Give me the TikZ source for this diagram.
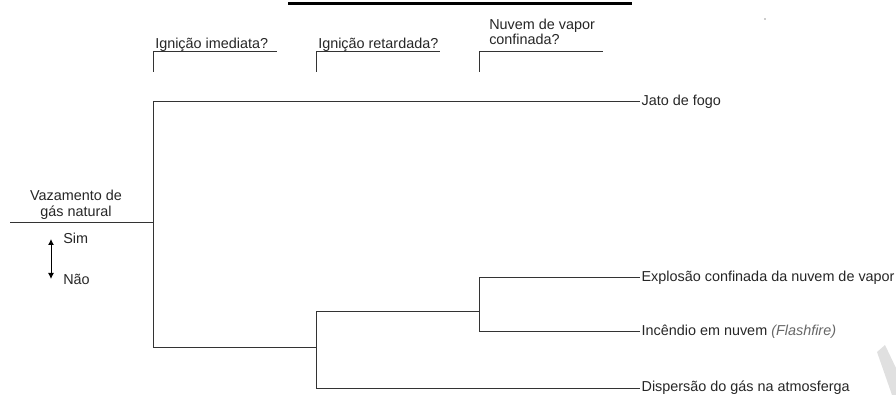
\documentclass[tikz,border=0pt]{standalone}
\usepackage{fontspec}
\setmainfont{Liberation Sans}
\usetikzlibrary{arrows.meta,positioning}

\begin{document}
\begin{tikzpicture}[x=0.75pt,y=-0.75pt,ramo/.style={draw=black!80,line width=0.75pt},saida/.style={anchor=west,inner sep=1pt,font=\fontsize{10.8}{12}\selectfont,text=black!85},pergunta/.style={anchor=base west,inner sep=0pt,align=left,font=\fontsize{10.8}{11.5}\selectfont,text=black!85},rotulo/.style={inner sep=0pt,align=center,font=\fontsize{10.8}{12}\selectfont,text=black!85}]
\useasboundingbox (0,0) rectangle (896,395);
% barra no topo e marcas
\draw[line width=2.25pt] (288,3.5)--(632,3.5);
\fill[black!40] (765,19) circle (0.8);
\fill[black!12] (877,352)--(885,345)--(896,368)--(896,395)--(892,395)--cycle;
% perguntas
\node[pergunta] (p1) at (155,49) {Igni\c{c}\~ao imediata?};
\node[pergunta] (p2) at (318,49) {Igni\c{c}\~ao retardada?};
\node[pergunta] (p3) at (489,45) {Nuvem de vapor\\confinada?};
\foreach \x/\n in {153/c1,316/c2,479/c3}{
  \coordinate (\n) at (\x,52);
  \draw[ramo] ([yshift=-20*0.75pt]\n)--(\n)--++(124,0);
}
% evento iniciador
\coordinate (ini) at (10,223);
\coordinate (n0) at (153,223);
\node[rotulo,anchor=south] (evento) at (76,220) {Vazamento de\\g\'as natural};
\draw[ramo] (ini)--(n0);
\coordinate (sim) at (51,239);
\coordinate (nao) at (51,279);
\draw[black,line width=0.75pt,{Latex[length=4.5pt,width=4.5pt]}-{Latex[length=4.5pt,width=4.5pt]}] (sim)--(nao);
\node[rotulo,anchor=base west] (tsim) at (63,244) {Sim};
\node[rotulo,anchor=base west] (tnao) at (63,285) {N\~ao};
% consequencias
\node[saida] (jato) at (640,102) {Jato de fogo};
\node[saida] (expl) at (640,278) {Explos\~ao confinada da nuvem de vapor};
\node[saida] (inc) at (640,332) {Inc\^endio em nuvem {\color{black!60}\itshape(Flashfire)}};
\node[saida] (disp) at (640,388) {Dispers\~ao do g\'as na atmosferga};
\coordinate (n1) at (316,347);
\coordinate (n2) at (479,312);
\draw[ramo] (n0)|-(jato.west);
\draw[ramo] (n0)|-(n1);
\draw[ramo] (n1)|-(n2);
\draw[ramo] (n1)|-(disp.west);
\draw[ramo] (n2)|-(expl.west);
\draw[ramo] (n2)|-(inc.west);
\end{tikzpicture}
\end{document}
